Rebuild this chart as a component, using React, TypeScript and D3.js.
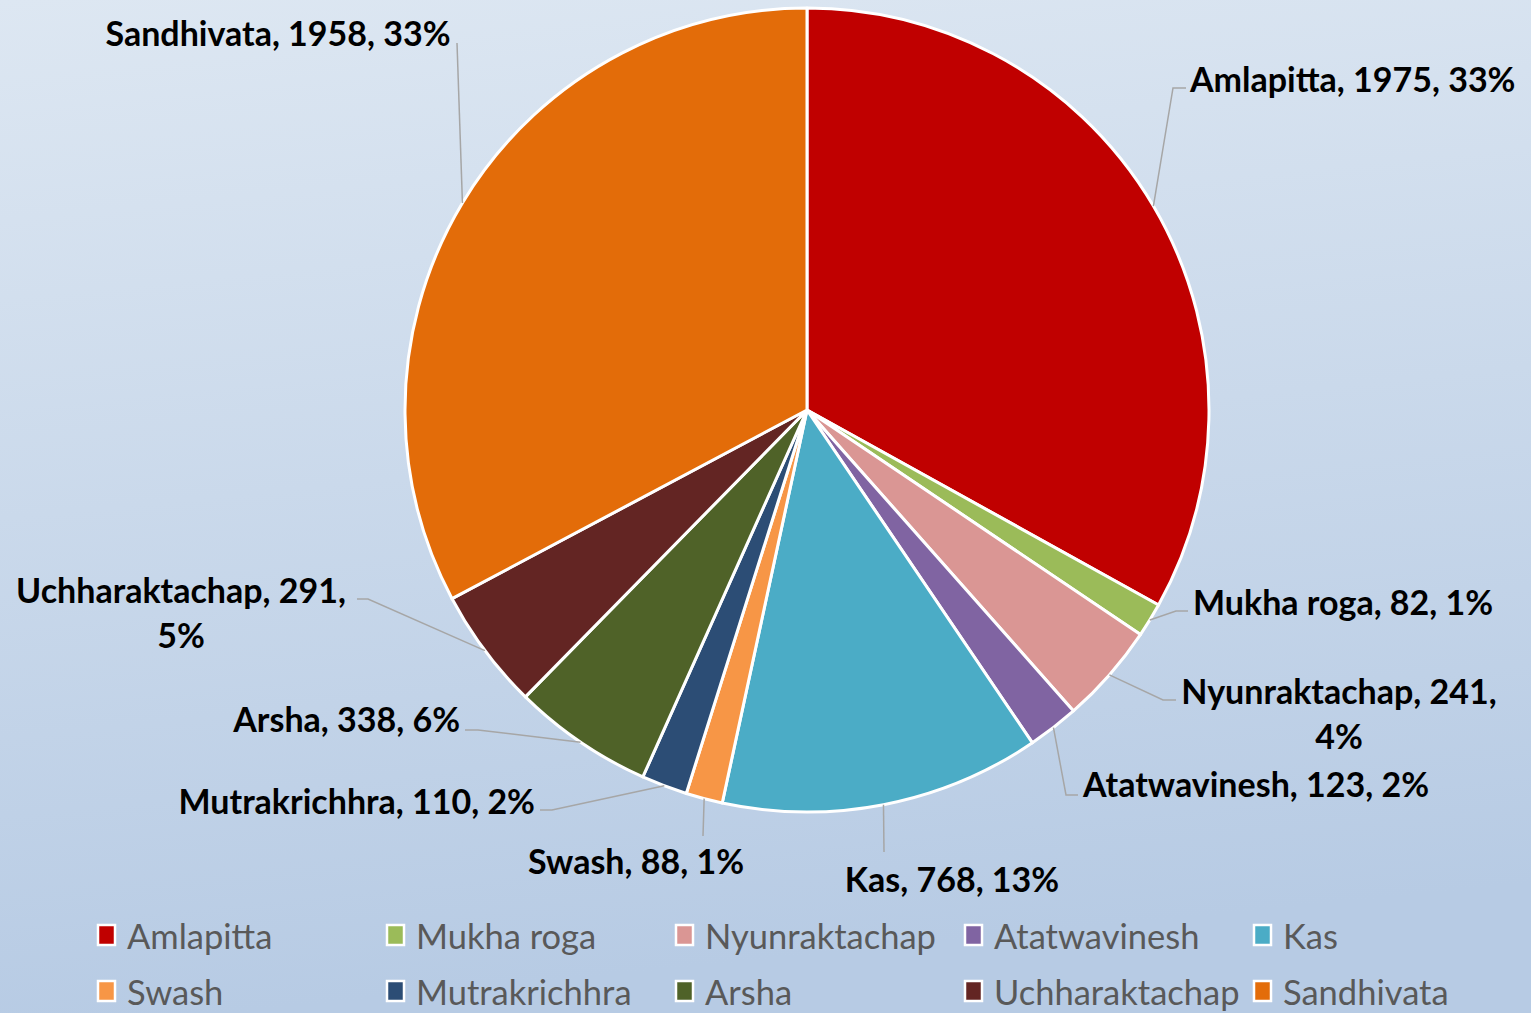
import React from 'react';
import * as d3 from 'd3';

// chart data
const categories = ['Amlapitta', 'Mukha roga', 'Nyunraktachap', 'Atatwavinesh', 'Kas', 'Swash', 'Mutrakrichhra', 'Arsha', 'Uchharaktachap', 'Sandhivata'];
const counts = [1975, 82, 241, 123, 768, 88, 110, 338, 291, 1958];
const colors = ['#c00000', '#9bbb59', '#da9694', '#8064a2', '#4bacc6', '#f79646', '#2c4d75', '#4f6228', '#632523', '#e36c09'];

// label layout: text anchor point, anchor side, elbow point, line end
const labelLayout = [
  { x: 1190, y: 78, anchor: 'start', elbow: [1173, 88], end: [1186, 88], wrap: false },
  { x: 1193, y: 601, anchor: 'start', elbow: [1176, 611], end: [1188, 611], wrap: false },
  { x: 1339, y: 690, anchor: 'middle', elbow: [1163, 700], end: [1176, 700], wrap: true },
  { x: 1083, y: 783, anchor: 'start', elbow: [1066, 795], end: [1078, 795], wrap: false },
  { x: 952, y: 878, anchor: 'middle', elbow: [884, 852], end: [884, 852], wrap: false },
  { x: 636, y: 860, anchor: 'middle', elbow: [703, 836], end: [703, 836], wrap: false },
  { x: 535, y: 800, anchor: 'end', elbow: [552, 810], end: [540, 810], wrap: false },
  { x: 460, y: 718, anchor: 'end', elbow: [478, 730], end: [465, 730], wrap: false },
  { x: 181, y: 589, anchor: 'middle', elbow: [368, 599], end: [357, 599], wrap: true },
  { x: 278, y: 32, anchor: 'middle', elbow: [457, 43], end: [457, 43], wrap: false },
];

const W = 1531;
const H = 1013;
const cx = 807;
const cy = 410;
const R = 402;
const font = 'Lato, "Open Sans", sans-serif';

export default function App() {
  const total = d3.sum(counts);
  const data = categories.map((name, i) => ({ name, value: counts[i], color: colors[i] }));
  const pie = d3.pie<any>().value(d => d.value).sort(null);
  const arcs = pie(data);
  const arc = d3.arc<any>().innerRadius(0).outerRadius(R);
  const fmt = (v: number) => `${Math.round((v / total) * 100)}%`;

  const legendX = d3.scalePoint<number>().domain([0, 1, 2, 3, 4]).range([98, 1254]);
  const legendY = d3.scalePoint<number>().domain([0, 1]).range([935, 991]);

  return (
    <svg width={W} height={H} style={{ position: 'absolute', left: 0, top: 0 }}>
      <defs>
        <linearGradient id="bg" x1="0" y1="0" x2="0.15" y2="1">
          <stop offset="0" stopColor="#dde7f2" />
          <stop offset="1" stopColor="#b7cbe4" />
        </linearGradient>
      </defs>
      <rect width={W} height={H} fill="url(#bg)" />
      <g transform={`translate(${cx},${cy})`}>
        {arcs.map((a, i) => (
          <path key={i} d={arc(a) as string} fill={a.data.color} stroke="#fff" strokeWidth={3} strokeLinejoin="round" />
        ))}
      </g>
      {arcs.map((a, i) => {
        const mid = (a.startAngle + a.endAngle) / 2;
        const px = cx + R * Math.sin(mid);
        const py = cy - R * Math.cos(mid);
        const L = labelLayout[i];
        return (
          <polyline
            key={i}
            points={`${px},${py} ${L.elbow[0]},${L.elbow[1]} ${L.end[0]},${L.end[1]}`}
            fill="none"
            stroke="#a6a6a6"
            strokeWidth={1.5}
          />
        );
      })}
      {arcs.map((a, i) => {
        const L = labelLayout[i];
        const d = a.data;
        const full = `${d.name}, ${d.value}, ${fmt(d.value)}`;
        return (
          <text
            key={i}
            x={L.x}
            y={L.y}
            textAnchor={L.anchor as any}
            dominantBaseline="central"
            fontFamily={font}
            fontWeight="bold"
            fontSize={34}
            fill="#000"
          >
            {L.wrap ? (
              <>
                <tspan x={L.x} dy={0}>{`${d.name}, ${d.value},`}</tspan>
                <tspan x={L.x} dy={45}>{fmt(d.value)}</tspan>
              </>
            ) : full}
          </text>
        );
      })}
      {categories.map((name, i) => {
        const col = i % 5;
        const row = Math.floor(i / 5);
        const x = legendX(col) as number;
        const y = legendY(row) as number;
        return (
          <g key={name}>
            <rect x={x} y={y - 10} width={17} height={20} fill={colors[i]} stroke="#fff" strokeWidth={2.5} />
            <text x={x + 29} y={y} dominantBaseline="central" fontFamily={font} fontSize={34.5} fill="#595959">
              {name}
            </text>
          </g>
        );
      })}
    </svg>
  );
}
